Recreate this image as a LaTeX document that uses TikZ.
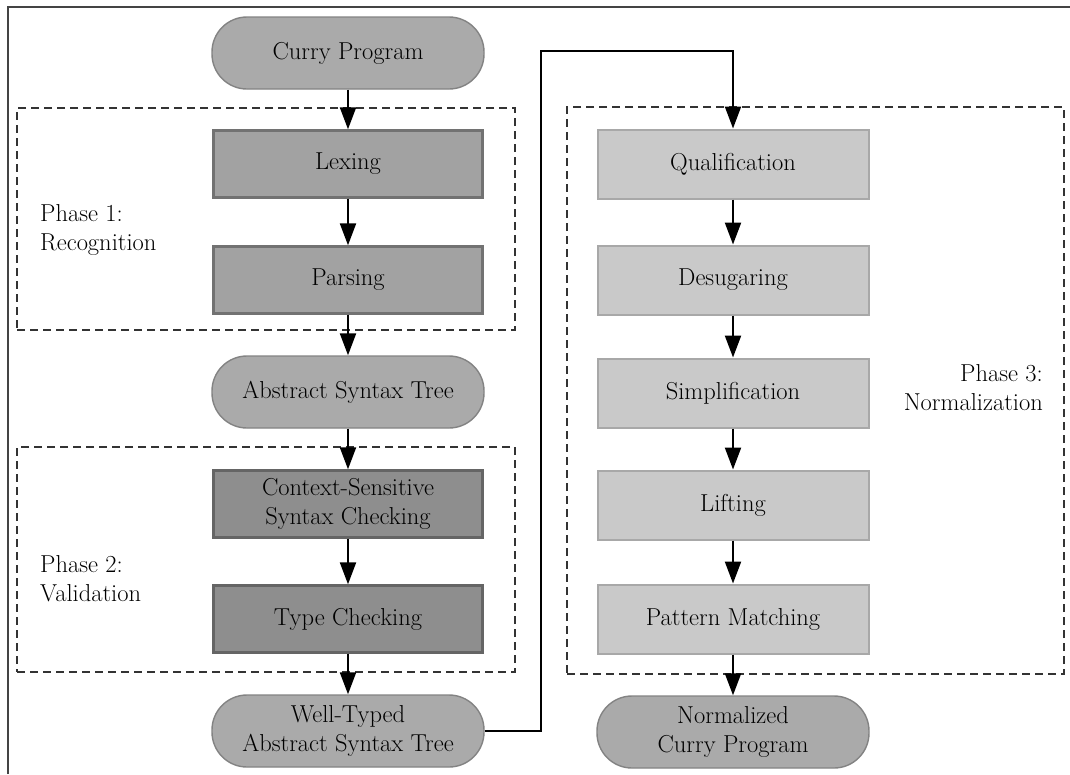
\documentclass[tikz,border=0pt]{standalone}
\usetikzlibrary{arrows.meta}
\definecolor{stadfill}{HTML}{AAAAAA}
\definecolor{staddraw}{HTML}{838383}
\definecolor{afill}{HTML}{A2A2A2}
\definecolor{adraw}{HTML}{727272}
\definecolor{bfill}{HTML}{8E8E8E}
\definecolor{bdraw}{HTML}{656565}
\definecolor{cfill}{HTML}{C9C9C9}
\definecolor{cdraw}{HTML}{A8A8A8}
\definecolor{dashcol}{HTML}{333333}
\definecolor{framecol}{HTML}{444444}
\begin{document}
\begin{tikzpicture}[x=1pt,y=1pt,
  every node/.style={font=\fontsize{24.5}{29}\selectfont, align=center},
  stadium/.style={draw=staddraw, fill=stadfill, line width=1.4pt, rounded corners=35pt, minimum width=272pt, minimum height=72pt, inner sep=0pt},
  procA/.style={draw=adraw, fill=afill, line width=2.4pt, minimum width=269pt, minimum height=67pt, inner sep=0pt},
  procB/.style={draw=bdraw, fill=bfill, line width=2.4pt, minimum width=269pt, minimum height=67pt, inner sep=0pt},
  procC/.style={draw=cdraw, fill=cfill, line width=2pt, minimum width=271pt, minimum height=69pt, inner sep=0pt},
  phasebox/.style={draw=dashcol, line width=1.8pt, dash pattern=on 8pt off 5pt, inner sep=0pt},
  phaselabel/.style={inner sep=0pt},
  arr/.style={line width=2.2pt, -{Triangle[length=22pt,width=16pt]}}
]
\useasboundingbox (0,0) rectangle (1070,-774);
\draw[framecol, line width=1.5pt] (8,-774) -- (8,-7) -- (1070,-7);

% phase boxes
\node[phasebox, minimum width=498pt, minimum height=222pt] (ph1) at (266,-219) {};
\node[phasebox, minimum width=498pt, minimum height=225pt] (ph2) at (266,-559.5) {};
\node[phasebox, minimum width=497pt, minimum height=567pt] (ph3) at (815.5,-390.5) {};

% left column
\node[stadium] (cp) at (348,-53) {Curry Program};
\node[procA] (lex) at (348,-164) {Lexing};
\node[procA] (par) at (348,-280) {Parsing};
\node[stadium] (ast) at (348,-392) {Abstract Syntax Tree};
\node[procB] (css) at (348,-504) {Context-Sensitive\\Syntax Checking};
\node[procB] (tc) at (348,-619) {Type Checking};
\node[stadium] (wt) at (348,-731) {Well-Typed\\Abstract Syntax Tree};

% right column
\node[procC] (qual) at (733,-164) {Qualification};
\node[procC] (des) at (733,-280) {Desugaring};
\node[procC] (sim) at (733,-393) {Simplification};
\node[procC] (lift) at (733,-505) {Lifting};
\node[procC] (pm) at (733,-619) {Pattern Matching};
\node[stadium] (ncp) at (733,-732) {Normalized\\Curry Program};

% phase labels
\node[phaselabel, anchor=west, align=left] (l1) at (40,-230) {Phase 1:\\Recognition};
\node[phaselabel, anchor=west, align=left] (l2) at (40,-579) {Phase 2:\\Validation};
\node[phaselabel, anchor=east, align=right] (l3) at (1043,-388) {Phase 3:\\Normalization};

% connectors
\draw[arr] (cp.south) -- (lex.north);
\draw[arr] (lex.south) -- (par.north);
\draw[arr] (par.south) -- (ast.north);
\draw[arr] (ast.south) -- (css.north);
\draw[arr] (css.south) -- (tc.north);
\draw[arr] (tc.south) -- (wt.north);
\coordinate (bend) at (541,-51);
\draw[arr, line width=2pt] (wt.east) -| (bend) -| (qual.north);
\draw[arr] (qual.south) -- (des.north);
\draw[arr] (des.south) -- (sim.north);
\draw[arr] (sim.south) -- (lift.north);
\draw[arr] (lift.south) -- (pm.north);
\draw[arr] (pm.south) -- (ncp.north);
\end{tikzpicture}
\end{document}
